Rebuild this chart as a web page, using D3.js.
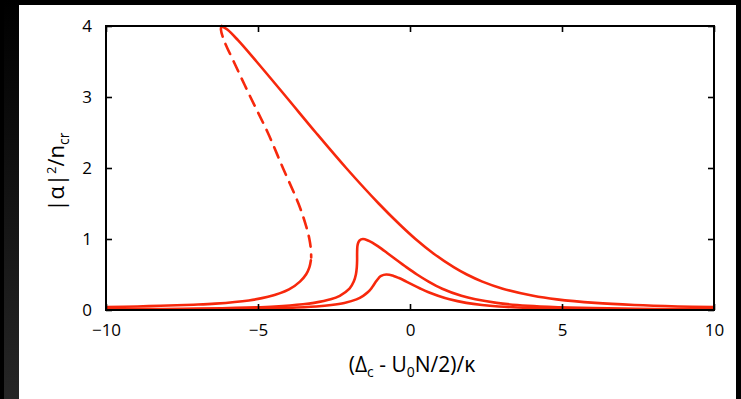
<!DOCTYPE html>
<html><head><meta charset="utf-8">
<script src="https://cdn.jsdelivr.net/npm/d3@7"></script>
<style>html,body{margin:0;padding:0;background:#000;}svg{display:block;}</style>
</head><body>
<svg id="c" width="741" height="399"></svg>
<script>
// ---- data ----
const xTicks = [-10, -5, 0, 5, 10];
const yTicks = [0, 1, 2, 3, 4];
// strong drive: lower stable branch
const bigLowerX = [-10.0, -8.97, -8.20, -7.12, -6.40, -5.30, -4.67, -3.98, -3.62, -3.42, -3.31, -3.26];
const bigLowerY = [0.04, 0.05, 0.06, 0.075, 0.09, 0.135, 0.185, 0.29, 0.40, 0.50, 0.60, 0.70];
// strong drive: unstable branch (dashed)
const bigUnstableX = [-3.25, -3.26, -3.31, -3.43, -3.67, -4.18, -4.68, -5.25, -5.80, -6.12, -6.22, -6.20];
const bigUnstableY = [0.74, 0.85, 1.00, 1.20, 1.50, 2.00, 2.50, 3.00, 3.50, 3.80, 3.95, 4.00];
// strong drive: upper stable branch
const bigUpperX = [-6.20, -6.01, -5.66, -5.05, -4.07, -3.10, -2.10, -1.03, -0.33, 0.18, 0.76, 1.45, 1.87, 2.38, 3.05, 4.05, 4.83, 6.09, 7.38, 8.81, 10.0];
const bigUpperY = [4.00, 3.95, 3.80, 3.50, 3.00, 2.50, 2.00, 1.50, 1.20, 1.00, 0.80, 0.60, 0.50, 0.40, 0.30, 0.20, 0.15, 0.10, 0.07, 0.05, 0.04];
// critical drive
const midX = [-10.0, -8.13, -7.03, -5.73, -4.44, -3.52, -3.16, -2.61, -2.31, -1.99, -1.85, -1.78, -1.75, -1.74, -1.74, -1.73, -1.70, -1.66, -1.55, -1.38, -1.24, -1.06, -0.74, -0.43, -0.11, 0.23, 0.61, 1.06, 1.69, 2.15, 2.85, 3.53, 4.28, 5.64, 6.97, 8.08, 10.0];
const midY = [0.01, 0.015, 0.02, 0.03, 0.05, 0.08, 0.10, 0.15, 0.20, 0.30, 0.40, 0.50, 0.60, 0.70, 0.80, 0.90, 0.95, 0.98, 1.00, 0.98, 0.95, 0.90, 0.80, 0.70, 0.60, 0.50, 0.40, 0.30, 0.20, 0.15, 0.10, 0.07, 0.05, 0.03, 0.02, 0.015, 0.01];
// weak drive
const smallX = [-10.0, -8.40, -7.00, -5.71, -4.93, -4.00, -3.08, -2.59, -2.16, -1.76, -1.54, -1.39, -1.28, -1.20, -1.12, -1.03, -0.95, -0.78, -0.54, -0.36, -0.12, 0.11, 0.35, 0.61, 0.92, 1.30, 1.85, 2.37, 2.92, 3.91, 4.87, 5.66, 6.98, 8.38, 10.0];
const smallY = [0.005, 0.007, 0.01, 0.015, 0.02, 0.03, 0.05, 0.07, 0.10, 0.15, 0.20, 0.25, 0.30, 0.35, 0.40, 0.45, 0.48, 0.50, 0.48, 0.45, 0.40, 0.35, 0.30, 0.25, 0.20, 0.15, 0.10, 0.07, 0.05, 0.03, 0.02, 0.015, 0.01, 0.007, 0.005];

// ---- drawing ----
const svg = d3.select("#c");
const defs = svg.append("defs");
const grad = defs.append("linearGradient").attr("id","lg").attr("x1",0).attr("y1",0).attr("x2",0).attr("y2",1);
grad.append("stop").attr("offset","0").attr("stop-color","#000");
grad.append("stop").attr("offset","1").attr("stop-color","#262626");
svg.append("rect").attr("x",0).attr("y",0).attr("width",741).attr("height",399).attr("fill","#000");
svg.append("rect").attr("x",4).attr("y",0).attr("width",15).attr("height",399).attr("fill","url(#lg)");
svg.append("rect").attr("x",19).attr("y",5).attr("width",717).attr("height",394).attr("fill","#fff");

const L = 106, R = 714, T = 26, B = 310;
const x = d3.scaleLinear().domain([-10, 10]).range([L, R]);
const y = d3.scaleLinear().domain([0, 4]).range([B, T]);
const red = "#f7280c";
const font = "'Open Sans', 'DejaVu Sans', sans-serif";

const clip = defs.append("clipPath").attr("id","pc");
clip.append("rect").attr("x",L).attr("y",T-3).attr("width",R-L).attr("height",B-T+3);

const line = d3.line().x(d => x(d[0])).y(d => y(d[1])).curve(d3.curveCatmullRom.alpha(0.5));
const zip = (a, b) => a.map((v, i) => [v, b[i]]);
const g = svg.append("g").attr("clip-path","url(#pc)");
function draw(xs, ys, dash) {
  g.append("path").attr("d", line(zip(xs, ys))).attr("fill","none")
    .attr("stroke", red).attr("stroke-width", 2.6).attr("stroke-linecap","round")
    .attr("stroke-linejoin","round").attr("stroke-dasharray", dash || null);
}
draw(smallX, smallY);
draw(midX, midY);
draw(bigLowerX, bigLowerY);
draw(bigUpperX, bigUpperY);
draw(bigUnstableX.slice().reverse(), bigUnstableY.slice().reverse(), "11,8");

// frame
svg.append("rect").attr("x",L).attr("y",T).attr("width",R-L).attr("height",B-T)
  .attr("fill","none").attr("stroke","#000").attr("stroke-width",2);

// axes with inward ticks
const axB = d3.axisBottom(x).tickValues(xTicks).tickSize(-6).tickPadding(14).tickFormat(d => d < 0 ? "\u2212" + Math.abs(d) : String(d));
const axT = d3.axisTop(x).tickValues(xTicks).tickSize(-6).tickFormat("");
const axL = d3.axisLeft(y).tickValues(yTicks).tickSize(-6).tickPadding(14).tickFormat(d3.format("d"));
const axR = d3.axisRight(y).tickValues(yTicks).tickSize(-6).tickFormat("");
function style(sel) {
  sel.select(".domain").remove();
  sel.selectAll(".tick line").attr("stroke","#000").attr("stroke-width",1.6);
  sel.selectAll("text").attr("fill","#000").style("font-family", font).style("font-size","17px");
}
svg.append("g").attr("transform",`translate(0,${B})`).call(axB).call(style);
svg.append("g").attr("transform",`translate(0,${T})`).call(axT).call(style);
svg.append("g").attr("transform",`translate(${L},0)`).call(axL).call(style);
svg.append("g").attr("transform",`translate(${R},0)`).call(axR).call(style);

// axis labels
const xl = svg.append("text").attr("x", 412).attr("y", 372).attr("text-anchor","middle")
  .style("font-family", font).style("font-size","21px").attr("fill","#000");
xl.append("tspan").text("(\u0394");
xl.append("tspan").text("c").attr("dy", 5).style("font-size","14px");
xl.append("tspan").text(" - U").attr("dy", -5);
xl.append("tspan").text("0").attr("dy", 5).style("font-size","14px");
xl.append("tspan").text("N/2)/\u03ba").attr("dy", -5);

const yl = svg.append("text").attr("transform","translate(64,172) rotate(-90)").attr("text-anchor","middle")
  .style("font-family", font).style("font-size","22px").attr("fill","#000");
yl.append("tspan").text("|\u03b1|");
yl.append("tspan").text("2").attr("dy", -8).style("font-size","13px");
yl.append("tspan").text("/n").attr("dy", 8);
yl.append("tspan").text("cr").attr("dy", 5).style("font-size","14px");
</script>
</body></html>
